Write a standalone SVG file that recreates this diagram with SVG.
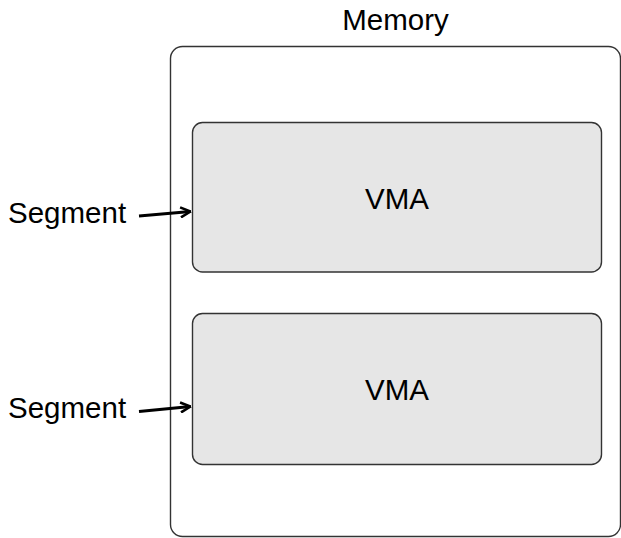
<svg xmlns="http://www.w3.org/2000/svg" width="621" height="538" viewBox="0 0 621 538">
  <style>
    text { font-family: "Liberation Sans", Arial, Helvetica, sans-serif; font-size: 29.5px; fill: #000; }
    .outer { fill: #ffffff; stroke: #333333; stroke-width: 1.4; }
    .vma { fill: #e6e6e6; stroke: #333333; stroke-width: 1.4; }
    .conn { fill: none; stroke: #000; stroke-width: 2.8; }
  </style>
  <defs>
    <marker id="arrow" viewBox="0 0 12 12" refX="11" refY="6" markerWidth="12" markerHeight="12" markerUnits="userSpaceOnUse" orient="auto">
      <path d="M1,1 L11,6 L1,11" fill="none" stroke="#000" stroke-width="2.6" stroke-linejoin="miter"/>
    </marker>
  </defs>

  <rect x="0" y="0" width="621" height="538" fill="#ffffff"/>

  <g id="memory">
    <rect class="outer" x="170.5" y="46.5" width="450" height="490" rx="12" ry="12"/>
    <text x="395.5" y="30" text-anchor="middle">Memory</text>
  </g>

  <g id="vma1">
    <rect class="vma" x="192.5" y="122.5" width="409" height="149.5" rx="10" ry="10"/>
    <text x="397" y="208.5" text-anchor="middle">VMA</text>
  </g>

  <g id="vma2">
    <rect class="vma" x="192.5" y="313.5" width="409" height="151" rx="10" ry="10"/>
    <text x="397" y="400" text-anchor="middle">VMA</text>
  </g>

  <g id="segment1">
    <text x="8" y="222.5">Segment</text>
  </g>

  <g id="segment2">
    <text x="8" y="417.5">Segment</text>
  </g>

  <g id="connectors">
    <line class="conn" x1="139" y1="216" x2="190.5" y2="211.5" marker-end="url(#arrow)"/>
    <line class="conn" x1="139" y1="411.5" x2="190.5" y2="406.5" marker-end="url(#arrow)"/>
  </g>
</svg>
